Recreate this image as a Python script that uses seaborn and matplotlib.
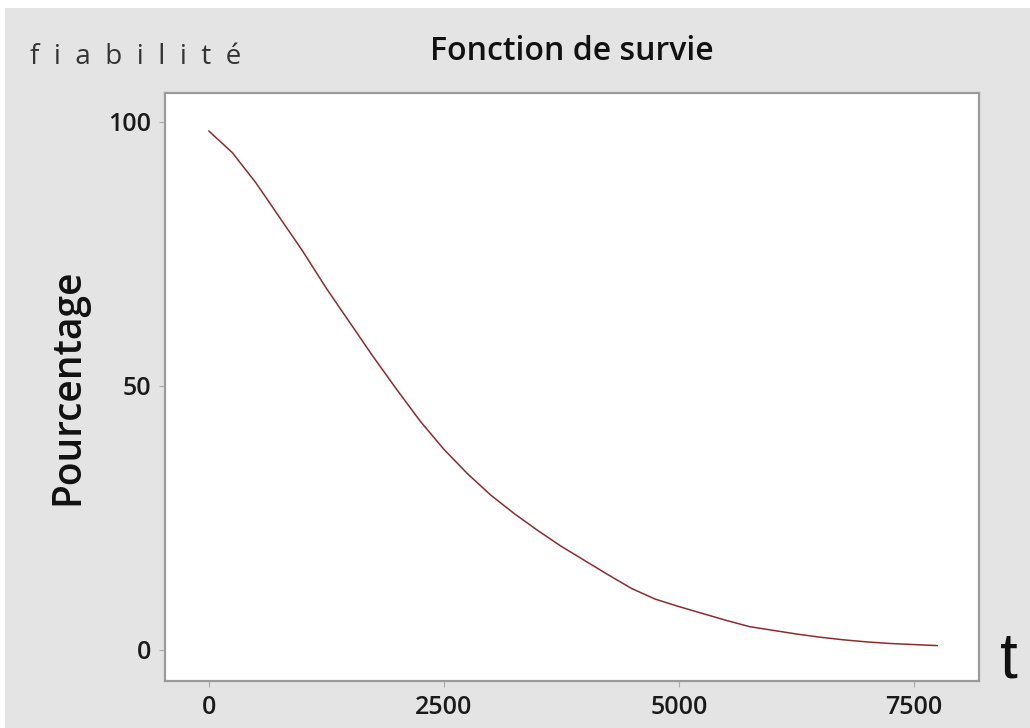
import pandas as pd
import matplotlib.pyplot as plt
from matplotlib.patches import Rectangle
import seaborn as sns

# temps (t) et fiabilité (%)
temps = [0, 250, 500, 750, 1000, 1250, 1500, 1750, 2000, 2250, 2500, 2750,
         3000, 3250, 3500, 3750, 4000, 4250, 4500, 4750, 5000, 5250, 5500,
         5750, 6000, 6250, 6500, 6750, 7000, 7250, 7500, 7750]
pourcentage = [98.3, 94.2, 88.5, 82.0, 75.5, 68.5, 62.0, 55.5, 49.3, 43.3,
               38.0, 33.4, 29.3, 25.8, 22.6, 19.6, 16.9, 14.2, 11.6, 9.6,
               8.2, 6.9, 5.6, 4.4, 3.7, 3.0, 2.4, 1.9, 1.5, 1.2, 1.0, 0.8]
x_ticks = [0, 2500, 5000, 7500]
y_ticks = [0, 50, 100]

sns.set_theme(style="white")
plt.rcParams['font.family'] = ['Open Sans', 'DejaVu Sans']

df = pd.DataFrame({'t': temps, 'Pourcentage': pourcentage})

fig = plt.figure(figsize=(10.3, 7.28), dpi=100, facecolor='white')
# fond gris du graphique (petite marge blanche en haut et à gauche)
fig.patches.append(Rectangle((5 / 1030, 0), 1, 1 - 8 / 728, transform=fig.transFigure,
                             facecolor='#e4e4e4', edgecolor='none', zorder=-10))

ax = fig.add_axes([0.160, 0.0646, 0.7903, 0.8077])
sns.lineplot(data=df, x='t', y='Pourcentage', ax=ax, color='#8e2c2c', linewidth=1.1)

ax.set_xlim(-468, 8191)
ax.set_ylim(-5.9, 105.5)
ax.set_xticks(x_ticks)
ax.set_yticks(y_ticks)
ax.tick_params(axis='both', which='both', direction='out', length=4, width=0.8,
               color='#aaaaaa', labelsize=18, labelcolor='#1a1a1a', pad=6,
               bottom=True, left=True)
for lab in ax.get_xticklabels() + ax.get_yticklabels():
    lab.set_fontweight('semibold')
for sp in ax.spines.values():
    sp.set_color('#9a9a9a')
    sp.set_linewidth(1.6)

ax.set_xlabel('')
ax.set_ylabel('Pourcentage', fontsize=28, color='#111111', labelpad=14,
              fontweight='semibold')
ax.set_title('Fonction de survie', fontsize=23, color='#111111', pad=24,
             fontweight='semibold')

fig.text(30 / 1030, 1 - 57 / 728, 'f  i  a  b  i  l  i  t  é', fontsize=20, color='#333333',
         ha='left', va='center')
fig.text(1009 / 1030, 1 - 660 / 728, 't', fontsize=46, color='#111111',
         ha='center', va='center', family=['Liberation Sans', 'DejaVu Sans'])

fig.savefig('out.png', dpi=100, facecolor=fig.get_facecolor())
